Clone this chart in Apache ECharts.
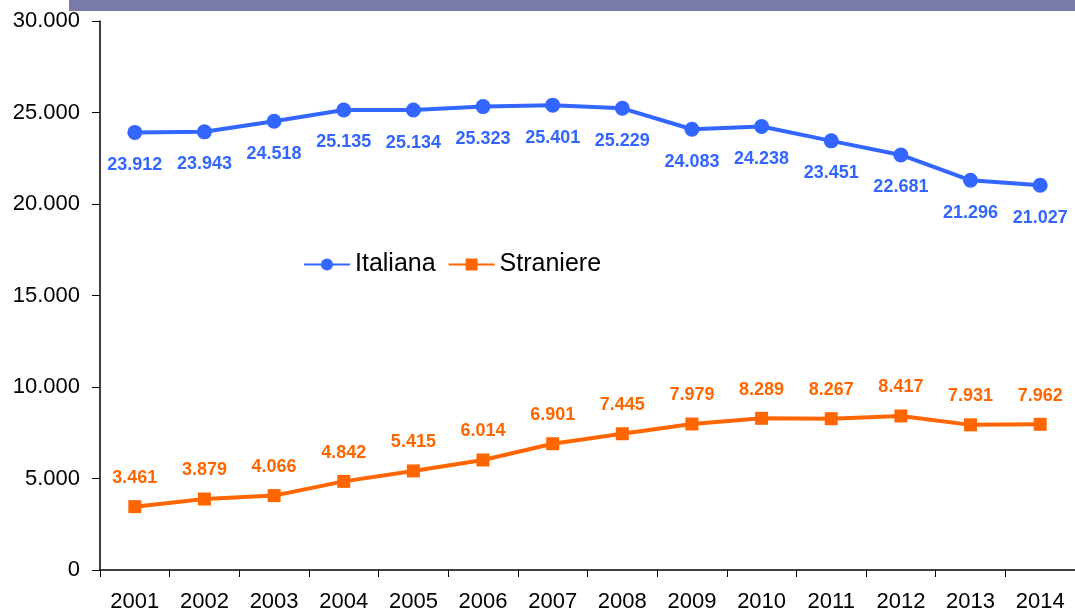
<!DOCTYPE html>
<html>
<head>
<meta charset="utf-8">
<script src="https://cdn.jsdelivr.net/npm/echarts@6/dist/echarts.min.js"></script>
<style>
html, body { margin: 0; padding: 0; background: #fff; }
#chart { width: 1075px; height: 613px; }
</style>
</head>
<body>
<div id="chart"></div>
<script>
var anni = ['2001', '2002', '2003', '2004', '2005', '2006', '2007', '2008', '2009', '2010', '2011', '2012', '2013', '2014'];
var italiana = [23912, 23943, 24518, 25135, 25134, 25323, 25401, 25229, 24083, 24238, 23451, 22681, 21296, 21027];
var straniere = [3461, 3879, 4066, 4842, 5415, 6014, 6901, 7445, 7979, 8289, 8267, 8417, 7931, 7962];

//numero con punto delle migliaia
function fmt(v) {
	return String(v).replace(/\B(?=(\d{3})+(?!\d))/g, '.');
}

var option = {
	animation: false,
	textStyle: { fontFamily: 'Liberation Sans, Arial, sans-serif' },
	graphic: [{
		type: 'rect',
		shape: { x: 69, y: 0, width: 1006, height: 11 },
		style: { fill: '#7b7ba8' }
	}],
	grid: { left: 100, right: 0, top: 21, bottom: 42 },
	legend: {
		left: 298,
		top: 247,
		itemWidth: 46,
		itemHeight: 15,
		itemGap: 12,
		textStyle: { fontSize: 25, color: '#000' },
		data: ['Italiana', 'Straniere']
	},
	xAxis: {
		type: 'category',
		data: anni,
		boundaryGap: true,
		axisLine: { lineStyle: { color: '#000', width: 1.5 } },
		axisTick: { show: true, length: 7, interval: 0, lineStyle: { color: '#000' } },
		axisLabel: { color: '#000', fontSize: 22, margin: 21, interval: 0 }
	},
	yAxis: {
		type: 'value',
		min: 0,
		max: 30000,
		interval: 5000,
		splitLine: { show: false },
		axisLine: { show: true, lineStyle: { color: '#000', width: 1.5 } },
		axisTick: { show: true, length: 8, lineStyle: { color: '#000' } },
		axisLabel: { color: '#000', fontSize: 22, margin: 20, formatter: fmt }
	},
	series: [{
		name: 'Italiana',
		type: 'line',
		data: italiana,
		symbol: 'circle',
		symbolSize: 15,
		itemStyle: { color: '#3366ff' },
		lineStyle: { width: 4, color: '#3366ff' },
		label: {
			show: true,
			position: 'bottom',
			distance: 16,
			color: '#3366ff',
			fontSize: 18,
			fontWeight: 'bold',
			formatter: function(p) { return fmt(p.value); }
		}
	}, {
		name: 'Straniere',
		type: 'line',
		data: straniere,
		symbol: 'rect',
		symbolSize: 13,
		itemStyle: { color: '#ff6600' },
		lineStyle: { width: 4, color: '#ff6600' },
		label: {
			show: true,
			position: 'top',
			distance: 13,
			color: '#ff6600',
			fontSize: 18,
			fontWeight: 'bold',
			formatter: function(p) { return fmt(p.value); }
		}
	}]
};

var chart = echarts.init(document.getElementById('chart'));
chart.setOption(option);
</script>
</body>
</html>
